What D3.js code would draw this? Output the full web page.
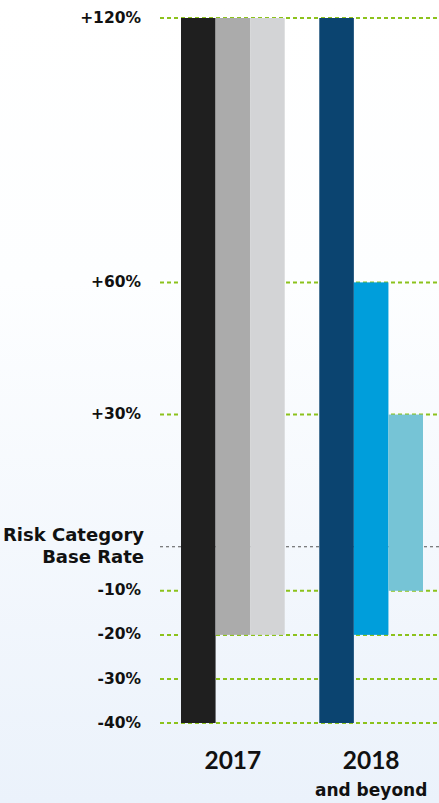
<!DOCTYPE html>
<html><head><meta charset="utf-8">
<script src="https://cdn.jsdelivr.net/npm/d3@7"></script>
<style>
html,body{margin:0;padding:0;}
body{width:439px;height:803px;overflow:hidden;}
</style></head>
<body><svg id="c" width="439" height="803"></svg>
<script>
const years = ["2017", "2018"];
const subLabels = ["", "and beyond"];
const barKeys = ["b1", "b2", "b3"];
const highs = [[120, 120, 120], [120, 60, 30]];
const lows = [[-40, -20, -20], [-40, -20, -10]];
const colors = [["#1f1f1f", "#ababab", "#d3d4d6"], ["#0b4470", "#009edb", "#76c4d6"]];
const tickValues = [120, 60, 30, -10, -20, -30, -40];
const tickLabels = ["+120%", "+60%", "+30%", "-10%", "-20%", "-30%", "-40%"];
const baseLabel = ["Risk Category", "Base Rate"];

const svg = d3.select("#c");
const W = 439, H = 803;
const defs = svg.append("defs");
const g = defs.append("linearGradient").attr("id","bg").attr("x1",0).attr("y1",0).attr("x2",0).attr("y2",1);
g.append("stop").attr("offset","0").attr("stop-color","#ffffff");
g.append("stop").attr("offset","0.35").attr("stop-color","#fdfeff");
g.append("stop").attr("offset","1").attr("stop-color","#ebf2fb");
svg.append("rect").attr("width",W).attr("height",H).attr("fill","url(#bg)");

const y = d3.scaleLinear().domain([-40, 120]).range([723, 18]);
const x0 = d3.scaleBand().domain(years).range([181, 423]).paddingInner(0.25).paddingOuter(0);
const x1 = d3.scaleBand().domain(barKeys).range([0, x0.bandwidth()]).padding(0);

const wideFont = "'DejaVu Sans', Verdana, sans-serif";
const yearFont = "Lato, 'Open Sans', sans-serif";

// grid lines
svg.append("g").selectAll("line").data(tickValues).join("line")
  .attr("x1", 160).attr("x2", W)
  .attr("y1", d => y(d)).attr("y2", d => y(d))
  .attr("stroke", "#8cc21c").attr("stroke-width", 2).attr("stroke-dasharray", "4,3");
svg.append("line").attr("x1",160).attr("x2",W).attr("y1",y(0)).attr("y2",y(0))
  .attr("stroke","#555").attr("stroke-width",1).attr("stroke-dasharray","3,3");

// bars
years.forEach((yr, i) => {
  svg.append("g").attr("transform", `translate(${x0(yr)},0)`)
    .selectAll("rect").data(barKeys).join("rect")
    .attr("x", k => x1(k))
    .attr("width", x1.bandwidth())
    .attr("y", (k, j) => y(highs[i][j]))
    .attr("height", (k, j) => y(lows[i][j]) - y(highs[i][j]))
    .attr("fill", (k, j) => colors[i][j]);
});

// tick labels
svg.append("g").selectAll("text").data(tickValues).join("text")
  .attr("x", 141).attr("y", d => y(d) - 1).attr("dy", "0.36em")
  .attr("text-anchor", "end").attr("font-family", wideFont).attr("font-weight", 700)
  .attr("font-size", 15.5).attr("fill", "#111")
  .text((d, i) => tickLabels[i]);

const bl = svg.append("text").attr("text-anchor","end").attr("font-family",wideFont)
  .attr("font-weight",700).attr("font-size",18).attr("fill","#111");
bl.append("tspan").attr("x",144).attr("y",y(0)-6).text(baseLabel[0]);
bl.append("tspan").attr("x",144).attr("y",y(0)+16.5).text(baseLabel[1]);

// x labels
svg.append("g").selectAll("text").data(years).join("text")
  .attr("x", d => x0(d) + x0.bandwidth()/2).attr("y", 769)
  .attr("text-anchor","middle").attr("font-family",yearFont).attr("font-weight",700)
  .attr("font-size",24.5).attr("fill","#111").text(d => d);
svg.append("g").selectAll("text").data(years).join("text")
  .attr("x", d => x0(d) + x0.bandwidth()/2).attr("y", 796)
  .attr("text-anchor","middle").attr("font-family",wideFont).attr("font-weight",700)
  .attr("font-size",17).attr("fill","#111").text((d,i) => subLabels[i]);
</script></body></html>
